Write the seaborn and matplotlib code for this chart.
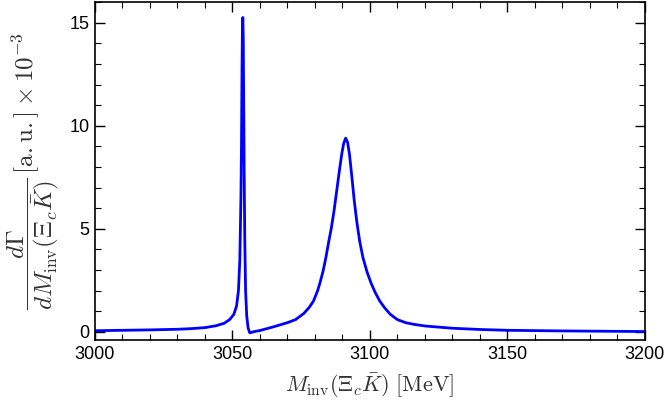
import matplotlib
matplotlib.use("Agg")
import matplotlib.pyplot as plt
import seaborn as sns
import pandas as pd
from matplotlib.ticker import MultipleLocator

# Invariant mass (MeV)
mass = [3000, 3010, 3020, 3030, 3035, 3040, 3044, 3047, 3049, 3050.5,
        3051.5, 3052.2, 3052.7, 3053.1, 3053.3, 3053.5, 3053.65, 3053.8, 3053.95, 3054.1,
        3054.3, 3054.5, 3054.8, 3055.2, 3055.7, 3056.3, 3057, 3058, 3060, 3065,
        3070, 3073, 3076, 3078, 3079.5, 3081, 3082, 3083, 3084, 3085,
        3086, 3087, 3088, 3089, 3089.8, 3090.5, 3091.2, 3091.9, 3092.6, 3093.4,
        3094.3, 3095.3, 3096.3, 3097.5, 3099, 3100.5, 3102, 3103.6, 3105.5, 3107.5,
        3110, 3113, 3116, 3120, 3130, 3140, 3150, 3170, 3200]
# dGamma/dM (a.u. x 10^-3)
rate = [0.06, 0.08, 0.10, 0.13, 0.16, 0.21, 0.30, 0.42, 0.60, 0.85,
        1.25, 2.0, 3.5, 6.5, 9.0, 12.8, 14.8, 15.25, 14.2, 11.5,
        7.5, 4.5, 2.0, 0.8, 0.2, -0.04, -0.02, 0.02, 0.07, 0.25,
        0.45, 0.60, 0.90, 1.20, 1.50, 2.0, 2.45, 2.96, 3.6, 4.35,
        5.05, 5.9, 6.9, 7.9, 8.65, 9.15, 9.4, 9.2, 8.6, 7.6,
        6.4, 5.3, 4.4, 3.6, 2.9, 2.35, 1.9, 1.5, 1.15, 0.85,
        0.60, 0.45, 0.37, 0.29, 0.18, 0.12, 0.08, 0.05, 0.02]

df = pd.DataFrame({"M": mass, "G": rate})

sns.set_theme(style="white")
plt.rcParams["mathtext.fontset"] = "cm"
plt.rcParams["font.family"] = ["Liberation Sans", "DejaVu Sans"]

fig = plt.figure(figsize=(6.64, 4.05), dpi=100)
ax = fig.add_axes([0.143, 0.160, 0.828, 0.835])

sns.lineplot(data=df, x="M", y="G", ax=ax, color=(0, 0, 1), linewidth=2.0,
             estimator=None, sort=False)

ax.set_xlim(3000, 3200)
ax.set_ylim(-0.4, 16.0)
ax.xaxis.set_major_locator(MultipleLocator(50))
ax.xaxis.set_minor_locator(MultipleLocator(10))
ax.yaxis.set_major_locator(MultipleLocator(5))
ax.yaxis.set_minor_locator(MultipleLocator(1))
ax.tick_params(which="both", direction="in", top=True, right=True,
               bottom=True, left=True, color="black", labelsize=13,
               labelcolor="black")
ax.tick_params(which="major", length=7, width=1.0, pad=4)
ax.tick_params(which="minor", length=4, width=0.8)
for s in ax.spines.values():
    s.set_color("black")
    s.set_linewidth(1.2)

ax.set_xlabel(r"$M_{\mathrm{inv}}(\Xi_c\bar{K})\ [\mathrm{MeV}]$", fontsize=16,
              color="#333333", labelpad=6)
ax.set_ylabel(r"$\dfrac{d\Gamma}{dM_{\mathrm{inv}}(\Xi_c\bar{K})}\,[\mathrm{a.\!\,u.}]\times 10^{-3}$",
              fontsize=18, color="#333333", labelpad=6)

fig.savefig("out.png", dpi=100)
